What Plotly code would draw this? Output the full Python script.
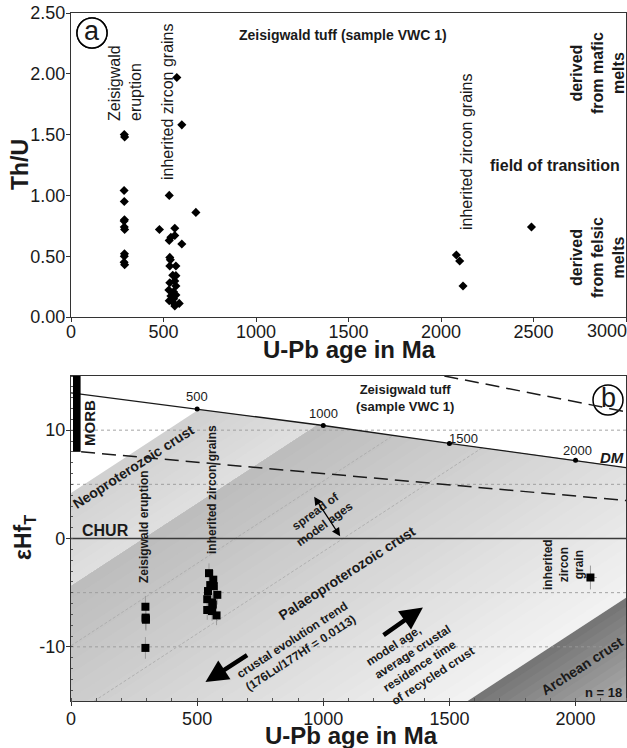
import numpy as np
import plotly.graph_objects as go

# ---------------- Panel a data (U-Pb age [Ma] vs Th/U) ----------------
ERUPT_AGE = [288, 290, 287, 288, 289, 287, 288, 290, 289, 288, 287, 290]
ERUPT_THU = [1.50, 1.48, 1.04, 0.95, 0.80, 0.79, 0.74, 0.72, 0.52, 0.50, 0.45, 0.43]

INH_AGE = [572, 599, 531, 675, 478, 561, 531, 540, 561, 599, 534, 537, 534, 567,
           550, 567, 561, 534, 567, 529, 554, 540, 567, 531, 548, 561, 585, 555]
INH_THU = [1.97, 1.58, 1.00, 0.86, 0.72, 0.73, 0.63, 0.655, 0.67, 0.60, 0.49, 0.47, 0.42, 0.42,
           0.343, 0.34, 0.296, 0.282, 0.255, 0.222, 0.208, 0.173, 0.181, 0.134, 0.126, 0.09, 0.112, 0.15]

OLD_AGE = [2083, 2101, 2119, 2489]
OLD_THU = [0.51, 0.46, 0.255, 0.74]

THU_TICKS = [0.0, 0.5, 1.0, 1.5, 2.0, 2.5]
AGE_TICKS_A = [0, 500, 1000, 1500, 2000, 2500, 3000]
AGE_TICKTEXT_A = ["0", "500", "1000", "1500", "2000", "2500", ""]   # last one drawn inside the edge below

# Th/U fields: (lower, upper, colour)
THU_FIELDS = [(0.0, 1.0, "#e6e6e6"), (1.0, 1.5, "#d2d2d2"), (1.5, 2.5, "#b4b4b4")]

# ---------------- Panel b data (U-Pb age [Ma] vs eps Hf(t)) ----------------
ZEIS_AGE = [295, 296, 297, 296, 295]
ZEIS_EPS = [-6.3, -7.3, -7.5, -7.4, -10.1]
ZEIS_ERR = [1.0, 1.0, 1.0, 1.0, 1.0]

INHB_AGE = [547, 564, 566, 543, 580, 540, 560, 562, 540, 559, 577, 552]
INHB_EPS = [-3.2, -3.8, -4.4, -4.85, -5.2, -5.6, -5.9, -6.1, -6.6, -6.7, -7.1, -4.3]
INHB_ERR = [0.9] * 12

GRAIN_AGE = [2059]
GRAIN_EPS = [-3.6]
GRAIN_ERR_Y = [1.1]
GRAIN_ERR_X = [25]

DM_AGE = [0, 500, 1000, 1500, 2000, 2200]
DM_EPS = [13.45, 11.95, 10.43, 8.78, 7.22, 6.55]
DM_MARKED = [500, 1000, 1500, 2000]

NC_AGE = [40, 2200]          # long-dashed line starting at MORB
NC_EPS = [8.0, 3.5]
UP_AGE = [1480, 2200]        # upper long-dashed line
UP_EPS = [15.0, 11.7]

MORB_AGE = [8, 38]
MORB_EPS = [8.0, 15.0]

GRID_EPS = [10, 5, -5, -10]

CRUST_SLOPE = 0.0152         # eps units per Ma (176Lu/177Hf = 0.0113)
NEO_UPPER = 4.2              # intercepts at age 0
NEO_LOWER = -4.4
ARCH_UPPER = -38.9
TREND_INTERCEPTS = [-9.9, -16.4]

X_RANGE_B = [0, 2200]
Y_RANGE_B = [-15, 15]
AGE_TICKS_B = [0, 500, 1000, 1500, 2000]
EPS_TICKS = [-10, 0, 10]
EPS_TICKTEXT = ["-10", "0", "10"]

FONT = "Liberation Sans, Arial, sans-serif"

fig = go.Figure()

# ---------------- Panel a ----------------
for lo, hi, col in THU_FIELDS:
    fig.add_shape(type="rect", xref="x", yref="y", x0=0, x1=3000, y0=lo, y1=hi,
                  fillcolor=col, line_width=0, layer="below")

for ages, vals in [(ERUPT_AGE, ERUPT_THU), (INH_AGE, INH_THU), (OLD_AGE, OLD_THU)]:
    fig.add_trace(go.Scatter(x=ages, y=vals, mode="markers", xaxis="x", yaxis="y",
                             marker=dict(symbol="diamond", size=7, color="black"),
                             showlegend=False, hoverinfo="skip"))

# ---------------- Panel b shading ----------------
def clip(poly, k, c, keep_above):
    s = 1.0 if keep_above else -1.0
    out = []
    n = len(poly)
    for i in range(n):
        p, q = poly[i], poly[(i + 1) % n]
        fp = s * (p[1] - k * p[0] - c)
        fq = s * (q[1] - k * q[0] - c)
        if fp >= 0:
            out.append(p)
        if (fp >= 0) != (fq >= 0):
            t = fp / (fp - fq)
            out.append((p[0] + t * (q[0] - p[0]), p[1] + t * (q[1] - p[1])))
    return out

region = [(X_RANGE_B[0], Y_RANGE_B[0]), (X_RANGE_B[1], Y_RANGE_B[0])] + \
         list(zip(DM_AGE, DM_EPS))[::-1]

def band(c_lo, c_hi):
    p = clip(region, CRUST_SLOPE, c_lo, True)
    if not p:
        return p
    return clip(p, CRUST_SLOPE, c_hi, False)

def grey(g):
    g = int(round(g))
    return "#%02x%02x%02x" % (g, g, g)

def add_poly(poly, col):
    if len(poly) < 3:
        return
    xs = [p[0] for p in poly] + [poly[0][0]]
    ys = [p[1] for p in poly] + [poly[0][1]]
    fig.add_trace(go.Scatter(x=xs, y=ys, mode="lines", fill="toself", fillcolor=col,
                             line=dict(width=0, color=col), xaxis="x2", yaxis="y2",
                             showlegend=False, hoverinfo="skip"))

# Neoproterozoic band: nested, darker toward upper edge
N = 10
for i in range(N):
    c_hi = NEO_UPPER - (NEO_UPPER - NEO_LOWER) * i / N
    f = (i + 0.5) / N
    add_poly(band(NEO_LOWER, c_hi), grey(208 + 16 * f))

# Palaeoproterozoic: darker near Neoproterozoic edge, lighter toward Archean
N = 30
for i in range(N):
    c_lo = ARCH_UPPER + (NEO_LOWER - ARCH_UPPER) * i / N
    f = (i + 0.5) / N
    add_poly(band(c_lo, NEO_LOWER), grey(243 - (243 - 188) * f))

# Archean: dark at edge, lighter toward corner
c_min = Y_RANGE_B[0] - CRUST_SLOPE * X_RANGE_B[1]
N = 12
for i in range(N):
    c_hi = ARCH_UPPER - (ARCH_UPPER - c_min) * i / N
    f = (i + 0.5) / N
    add_poly(band(c_min - 5, c_hi), grey(116 + 58 * f))

# horizontal dashed grid lines
for g in GRID_EPS:
    fig.add_trace(go.Scatter(x=X_RANGE_B, y=[g, g], mode="lines", xaxis="x2", yaxis="y2",
                             line=dict(color="#9a9a9a", width=0.9, dash="3px,3px"),
                             showlegend=False, hoverinfo="skip"))

# crustal evolution trend lines
xs = np.linspace(X_RANGE_B[0], X_RANGE_B[1], 4401)
dm = np.interp(xs, DM_AGE, DM_EPS)
for c in TREND_INTERCEPTS:
    ln = c + CRUST_SLOPE * xs
    m = (ln >= Y_RANGE_B[0]) & (ln <= dm)
    xa, xb = xs[m].min(), xs[m].max()
    fig.add_trace(go.Scatter(x=[xa, xb], y=[c + CRUST_SLOPE * xa, c + CRUST_SLOPE * xb],
                             mode="lines", xaxis="x2", yaxis="y2",
                             line=dict(color="#a8a8a8", width=0.8, dash="3px,2px"),
                             showlegend=False, hoverinfo="skip"))

# CHUR
fig.add_trace(go.Scatter(x=X_RANGE_B, y=[0, 0], mode="lines", xaxis="x2", yaxis="y2",
                         line=dict(color="#3a3a3a", width=1.3),
                         showlegend=False, hoverinfo="skip"))
# DM
fig.add_trace(go.Scatter(x=DM_AGE, y=DM_EPS, mode="lines", xaxis="x2", yaxis="y2",
                         line=dict(color="#1a1a1a", width=1.3),
                         showlegend=False, hoverinfo="skip"))
dm_marked_eps = [float(np.interp(a, DM_AGE, DM_EPS)) for a in DM_MARKED]
fig.add_trace(go.Scatter(x=DM_MARKED, y=dm_marked_eps, mode="markers", xaxis="x2", yaxis="y2",
                         marker=dict(size=5, color="black"),
                         showlegend=False, hoverinfo="skip"))
# long dashed lines
for ax_, ey_ in [(NC_AGE, NC_EPS), (UP_AGE, UP_EPS)]:
    fig.add_trace(go.Scatter(x=ax_, y=ey_, mode="lines", xaxis="x2", yaxis="y2",
                             line=dict(color="#1a1a1a", width=1.5, dash="14px,7px"),
                             showlegend=False, hoverinfo="skip"))
# MORB bar
fig.add_trace(go.Scatter(x=[MORB_AGE[0], MORB_AGE[1], MORB_AGE[1], MORB_AGE[0], MORB_AGE[0]],
                         y=[MORB_EPS[0], MORB_EPS[0], MORB_EPS[1], MORB_EPS[1], MORB_EPS[0]],
                         mode="lines", fill="toself", fillcolor="black",
                         line=dict(width=0, color="black"), xaxis="x2", yaxis="y2",
                         showlegend=False, hoverinfo="skip"))

# data with error bars
fig.add_trace(go.Scatter(x=ZEIS_AGE, y=ZEIS_EPS, mode="markers", xaxis="x2", yaxis="y2",
                         error_y=dict(type="data", array=ZEIS_ERR, color="#9a9a9a",
                                      thickness=1, width=0),
                         marker=dict(symbol="square", size=8, color="black"),
                         showlegend=False, hoverinfo="skip"))
fig.add_trace(go.Scatter(x=INHB_AGE, y=INHB_EPS, mode="markers", xaxis="x2", yaxis="y2",
                         error_y=dict(type="data", array=INHB_ERR, color="#9a9a9a",
                                      thickness=1, width=0),
                         marker=dict(symbol="square", size=8, color="black"),
                         showlegend=False, hoverinfo="skip"))
fig.add_trace(go.Scatter(x=GRAIN_AGE, y=GRAIN_EPS, mode="markers", xaxis="x2", yaxis="y2",
                         error_y=dict(type="data", array=GRAIN_ERR_Y, color="#9a9a9a",
                                      thickness=1, width=0),
                         error_x=dict(type="data", array=GRAIN_ERR_X, color="#9a9a9a",
                                      thickness=1, width=0),
                         marker=dict(symbol="square", size=8, color="black"),
                         showlegend=False, hoverinfo="skip"))

# ---------------- layout helpers (pixel -> paper) ----------------
FIG_W, FIG_H = 627, 748
PL, PT, PW, PH = 71, 13, 555, 688   # plot area in pixels

def px(x):
    return (x - PL) / PW

def py(y):
    return (PT + PH - y) / PH

ann = []

def text(t, x, y, size, bold=False, angle=0, align="center", color="#1a1a1a", italic=False):
    if italic:
        t = "<i>" + t + "</i>"
    if bold:
        t = "<b>" + t + "</b>"
    ann.append(dict(text=t, x=px(x), y=py(y), xref="paper", yref="paper",
                    xanchor="center", yanchor="middle", showarrow=False,
                    textangle=angle, align=align,
                    font=dict(family=FONT, size=size, color=color)))

# panel a labels
text("Zeisigwald tuff (sample VWC 1)", 343, 35, 14, bold=True)
text("Zeisigwald<br>eruption", 125, 83, 16, angle=-90, align="left")
text("inherited zircon grains", 167, 102, 16, angle=-90)
text("inherited zircon grains", 466, 151, 16, angle=-90)
text("derived<br>from mafic<br>melts", 597, 73, 16, bold=True, angle=-90)
text("field of transition", 555, 166, 16, bold=True)
text("derived<br>from felsic<br>melts", 597, 258, 16, bold=True, angle=-90)
text("Th/U", 20, 165, 23, bold=True, angle=-90)
text("U-Pb age in Ma", 349, 349, 24, bold=True)
text("a", 92, 31, 27)
text("3000", 607, 331, 18)          # last tick label of panel a, kept inside the page

# panel b labels
text("b", 608, 398, 27)
text("Zeisigwald tuff<br>(sample VWC 1)", 405, 398, 13, bold=True)
text("DM", 612, 457, 15, bold=True, italic=True)
text("MORB", 90, 423, 15, bold=True, angle=-90)
text("Neoproterozoic crust", 133, 467, 14, bold=True, angle=-33)
text("CHUR", 105, 530, 16, bold=True)
text("Zeisigwald eruption", 144, 527, 12, bold=True, angle=-90)
text("inherited zircon grains", 212, 490, 12, bold=True, angle=-90)
text("spread of<br>model ages", 320, 518, 12, bold=True, angle=-36)
text("Palaeoproterozoic crust", 347, 573, 14, bold=True, angle=-33)
text("crustal evolution trend<br>(176Lu/177Hf = 0.0113)", 296, 647, 12, bold=True, angle=-33)
text("model age,<br>average crustal<br>residence time<br>of recycled crust", 420, 656, 12,
     bold=True, angle=-33, align="left")
text("Archean crust", 582, 666, 14, bold=True, angle=-33)
text("n = 18", 603, 692, 13, bold=True)
text("inherited<br>zircon<br>grain", 563, 565, 12, bold=True, angle=-90)
text("εHf<sub>T</sub>", 24, 538, 23, bold=True, angle=-90)
text("U-Pb age in Ma", 351, 735, 24, bold=True)

# DM age labels
DM_LABEL_SHIFT = {500: (0, 13), 1000: (0, 12), 1500: (14, 5), 2000: (2, 10)}
for a, e in zip(DM_MARKED, dm_marked_eps):
    sx, sy = DM_LABEL_SHIFT[a]
    ann.append(dict(text=str(a), x=a, y=e, xref="x2", yref="y2", showarrow=False,
                    xshift=sx, yshift=sy, font=dict(family=FONT, size=13, color="#1a1a1a")))

# arrows (data coords of panel b)
def arrow(x_head, y_head, x_tail, y_tail, width, size, side="end", head=2):
    ann.append(dict(x=x_head, y=y_head, ax=x_tail, ay=y_tail, xref="x2", yref="y2",
                    axref="x2", ayref="y2", text="", showarrow=True, arrowhead=head,
                    startarrowhead=head, arrowside=side, arrowwidth=width, arrowsize=size,
                    startarrowsize=size, arrowcolor="black"))

arrow(533, -13.25, 704, -10.68, 4.5, 1.0)
arrow(1395, -6.36, 1233, -9.02, 4.5, 1.0)
arrow(1067, 0.2, 960, 4.0, 1.3, 1.3, side="end+start")

shapes = []
for cx, cy in [(92, 33), (608, 400)]:
    r = 15
    shapes.append(dict(type="circle", xref="paper", yref="paper",
                       x0=px(cx - r), x1=px(cx + r), y0=py(cy + r), y1=py(cy - r),
                       fillcolor="white", line=dict(color="black", width=1.5)))

axis_common = dict(showline=True, mirror=True, linecolor="#333333", linewidth=1.2,
                   ticks="outside", ticklen=4, tickcolor="#333333", showgrid=False,
                   zeroline=False, ticklabeloverflow="allow", automargin=False,
                   tickfont=dict(family=FONT, size=18, color="#1a1a1a"))

fig.update_layout(
    width=FIG_W, height=FIG_H,
    margin=dict(l=PL, r=FIG_W - PL - PW, t=PT, b=FIG_H - PT - PH, autoexpand=False),
    paper_bgcolor="white", plot_bgcolor="white",
    font=dict(family=FONT),
    xaxis=dict(domain=[0, 1], anchor="y", range=[0, 3000],
               tickvals=AGE_TICKS_A, ticktext=AGE_TICKTEXT_A, ticklabelstandoff=-6,
               **axis_common),
    yaxis=dict(domain=[py(317), 1], anchor="x", range=[0, 2.5],
               tickvals=THU_TICKS, tickformat=".2f", ticklabelstandoff=-3, **axis_common),
    xaxis2=dict(domain=[0, 1], anchor="y2", range=X_RANGE_B, tickvals=AGE_TICKS_B,
                ticklabelstandoff=-3,
                minor=dict(dtick=100, ticks="inside", ticklen=3, tickcolor="#555555"),
                **axis_common),
    yaxis2=dict(domain=[0, py(376)], anchor="x2", range=Y_RANGE_B, tickvals=EPS_TICKS,
                ticktext=EPS_TICKTEXT, ticklabelstandoff=-3,
                minor=dict(dtick=1, ticks="inside", ticklen=2, tickcolor="#555555"),
                **axis_common),
    annotations=ann,
    shapes=shapes,
    showlegend=False,
)

# remove the page's default body margin so the 627x748 figure fills the window exactly
fig.write_html("out.html",
               config={"displayModeBar": False},
               post_script="document.body.style.margin='0px';document.body.style.overflow='hidden';")
